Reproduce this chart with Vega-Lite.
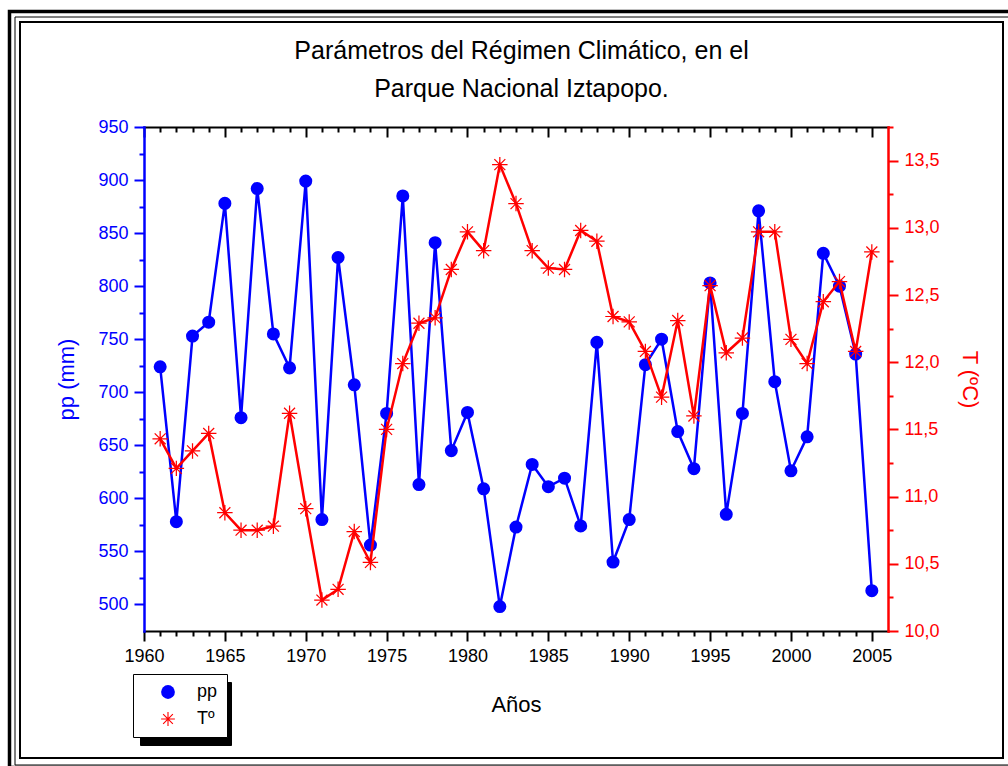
{
  "$schema": "https://vega.github.io/schema/vega-lite/v6.json",
  "width": 744,
  "height": 504,
  "autosize": "none",
  "padding": {"left": 144, "top": 127, "right": 120, "bottom": 135},
  "background": "white",
  "data": {
    "values": [
      {"year": 1961, "pp": 724, "T": 11.43},
      {"year": 1962, "pp": 578, "T": 11.21},
      {"year": 1963, "pp": 753, "T": 11.34},
      {"year": 1964, "pp": 766, "T": 11.47},
      {"year": 1965, "pp": 878, "T": 10.88},
      {"year": 1966, "pp": 676, "T": 10.75},
      {"year": 1967, "pp": 892, "T": 10.75},
      {"year": 1968, "pp": 755, "T": 10.78},
      {"year": 1969, "pp": 723, "T": 11.62},
      {"year": 1970, "pp": 899, "T": 10.91},
      {"year": 1971, "pp": 580, "T": 10.23},
      {"year": 1972, "pp": 827, "T": 10.31},
      {"year": 1973, "pp": 707, "T": 10.74},
      {"year": 1974, "pp": 556, "T": 10.51},
      {"year": 1975, "pp": 680, "T": 11.5},
      {"year": 1976, "pp": 885, "T": 11.99},
      {"year": 1977, "pp": 613, "T": 12.29},
      {"year": 1978, "pp": 841, "T": 12.33},
      {"year": 1979, "pp": 645, "T": 12.69},
      {"year": 1980, "pp": 681, "T": 12.97},
      {"year": 1981, "pp": 609, "T": 12.83},
      {"year": 1982, "pp": 498, "T": 13.47},
      {"year": 1983, "pp": 573, "T": 13.18},
      {"year": 1984, "pp": 632, "T": 12.83},
      {"year": 1985, "pp": 611, "T": 12.7},
      {"year": 1986, "pp": 619, "T": 12.69},
      {"year": 1987, "pp": 574, "T": 12.98},
      {"year": 1988, "pp": 747, "T": 12.9},
      {"year": 1989, "pp": 540, "T": 12.34},
      {"year": 1990, "pp": 580, "T": 12.3},
      {"year": 1991, "pp": 726, "T": 12.08},
      {"year": 1992, "pp": 750, "T": 11.74},
      {"year": 1993, "pp": 663, "T": 12.31},
      {"year": 1994, "pp": 628, "T": 11.6},
      {"year": 1995, "pp": 803, "T": 12.57},
      {"year": 1996, "pp": 585, "T": 12.07},
      {"year": 1997, "pp": 680, "T": 12.18},
      {"year": 1998, "pp": 871, "T": 12.97},
      {"year": 1999, "pp": 710, "T": 12.97},
      {"year": 2000, "pp": 626, "T": 12.17},
      {"year": 2001, "pp": 658, "T": 11.99},
      {"year": 2002, "pp": 831, "T": 12.45},
      {"year": 2003, "pp": 800, "T": 12.6},
      {"year": 2004, "pp": 736, "T": 12.08},
      {"year": 2005, "pp": 513, "T": 12.82}
    ]
  },
  "layer": [
    {
      "mark": {"type": "line", "color": "#0000ff", "strokeWidth": 2.5},
      "encoding": {
        "x": {
          "field": "year", "type": "quantitative",
          "scale": {"domain": [1960, 2006], "nice": false, "zero": false},
          "axis": {
            "orient": "bottom",
            "values": [1960,1961,1962,1963,1964,1965,1966,1967,1968,1969,1970,1971,1972,1973,1974,1975,1976,1977,1978,1979,1980,1981,1982,1983,1984,1985,1986,1987,1988,1989,1990,1991,1992,1993,1994,1995,1996,1997,1998,1999,2000,2001,2002,2003,2004,2005],
            "format": "d",
            "labelExpr": "datum.value % 5 === 0 ? datum.label : ''",
            "tickSize": {"condition": {"test": "datum.value % 5 === 0", "value": 10}, "value": 5},
            "labelOverlap": false,
            "labelFlush": false,
            "labelPadding": 6,
            "labelFont": "Liberation Sans",
            "labelFontSize": 18,
            "labelColor": "black",
            "domainColor": "black",
            "domainWidth": 2,
            "tickColor": "black",
            "tickWidth": 2,
            "grid": false,
            "title": "Años",
            "titleFont": "Liberation Sans",
            "titleFontSize": 22,
            "titleFontWeight": "normal",
            "titleColor": "black",
            "titlePadding": 29
          }
        },
        "y": {
          "field": "pp", "type": "quantitative",
          "scale": {"domain": [475, 950], "nice": false, "zero": false},
          "axis": {
            "orient": "left",
            "values": [500,525,550,575,600,625,650,675,700,725,750,775,800,825,850,875,900,925,950],
            "labelExpr": "datum.value % 50 === 0 ? datum.label : ''",
            "tickSize": {"condition": {"test": "datum.value % 50 === 0", "value": 10}, "value": 5},
            "labelOverlap": false,
            "labelFlush": false,
            "labelPadding": 6,
            "labelFont": "Liberation Sans",
            "labelFontSize": 18,
            "labelColor": "#0000ff",
            "domainColor": "#0000ff",
            "domainWidth": 2.5,
            "tickColor": "#0000ff",
            "tickWidth": 2,
            "grid": false,
            "title": "pp (mm)",
            "titleFont": "Liberation Sans",
            "titleFontSize": 22,
            "titleFontWeight": "normal",
            "titleColor": "#0000ff",
            "titlePadding": 19
          }
        }
      }
    },
    {
      "mark": {"type": "point", "filled": true, "size": 170, "opacity": 1},
      "encoding": {
        "x": {"field": "year", "type": "quantitative", "axis": null},
        "y": {"field": "pp", "type": "quantitative", "scale": {"domain": [475, 950], "nice": false, "zero": false}, "axis": null},
        "color": {
          "datum": "pp",
          "scale": {"domain": ["pp", "Tº"], "range": ["#0000ff", "#ff0000"]},
          "legend": {
            "orient": "none",
            "legendX": -11,
            "legendY": 547,
            "zindex": 2,
            "title": null,
            "strokeColor": "black",
            "fillColor": "white",
            "padding": 9,
            "rowPadding": 9,
            "symbolSize": 190,
            "symbolOffset": 17,
            "symbolOpacity": 1,
            "labelOffset": 20,
            "labelFont": "Liberation Sans",
            "labelFontSize": 18,
            "labelColor": "black"
          }
        },
        "shape": {
          "datum": "pp",
          "scale": {"domain": ["pp", "Tº"], "range": ["circle", "M-1,-0.08L1,-0.08L1,0.08L-1,0.08ZM-0.08,-1L0.08,-1L0.08,1L-0.08,1ZM-0.764,-0.65L-0.65,-0.764L0.764,0.65L0.65,0.764ZM-0.65,0.764L-0.764,0.65L0.65,-0.764L0.764,-0.65Z"]},
          "legend": {
            "orient": "none",
            "legendX": -11,
            "legendY": 547,
            "zindex": 2,
            "title": null,
            "strokeColor": "black",
            "fillColor": "white",
            "padding": 9,
            "rowPadding": 9,
            "symbolSize": 190,
            "symbolOffset": 17,
            "symbolOpacity": 1,
            "labelOffset": 20,
            "labelFont": "Liberation Sans",
            "labelFontSize": 18,
            "labelColor": "black"
          }
        }
      }
    },
    {
      "mark": {"type": "line", "color": "#ff0000", "strokeWidth": 2.5},
      "encoding": {
        "x": {
          "field": "year", "type": "quantitative",
          "axis": {
            "orient": "top",
            "domain": false,
            "ticks": false,
            "labels": false,
            "grid": false,
            "title": ["Parámetros del Régimen Climático, en el", "Parque Nacional Iztapopo."],
            "titleFont": "Liberation Sans",
            "titleFontSize": 25,
            "titleFontWeight": "normal",
            "titleColor": "black",
            "titleLineHeight": 38,
            "titleX": 377,
            "titlePadding": 26
          }
        },
        "y": {
          "field": "T", "type": "quantitative",
          "scale": {"domain": [10, 13.75], "nice": false, "zero": false},
          "axis": {
            "orient": "right",
            "values": [10,10.25,10.5,10.75,11,11.25,11.5,11.75,12,12.25,12.5,12.75,13,13.25,13.5,13.75],
            "labelExpr": "abs(datum.value*2 - round(datum.value*2)) < 0.001 ? replace(format(datum.value, '.1f'), '.', ',') : ''",
            "tickSize": {"condition": {"test": "abs(datum.value*2 - round(datum.value*2)) < 0.001", "value": 10}, "value": 5},
            "labelOverlap": false,
            "labelFlush": false,
            "labelPadding": 6,
            "labelFont": "Liberation Sans",
            "labelFontSize": 18,
            "labelColor": "#ff0000",
            "domainColor": "#ff0000",
            "domainWidth": 2.5,
            "tickColor": "#ff0000",
            "tickWidth": 2,
            "grid": false,
            "title": "T (ºC)",
            "titleAngle": 90,
            "titleFont": "Liberation Sans",
            "titleFontSize": 22,
            "titleFontWeight": "normal",
            "titleColor": "#ff0000",
            "titlePadding": 18
          }
        }
      }
    },
    {
      "mark": {"type": "point", "filled": true, "size": 240, "opacity": 1},
      "encoding": {
        "x": {"field": "year", "type": "quantitative", "axis": null},
        "y": {"field": "T", "type": "quantitative", "scale": {"domain": [10, 13.75], "nice": false, "zero": false}, "axis": null},
        "color": {"datum": "Tº"},
        "shape": {"datum": "Tº"}
      }
    },
    {
      "mark": {"type": "point", "opacity": 0},
      "encoding": {
        "x": {
          "field": "year", "type": "quantitative",
          "axis": {
            "orient": "bottom",
            "offset": -504,
            "values": [1960,1961,1962,1963,1964,1965,1966,1967,1968,1969,1970,1971,1972,1973,1974,1975,1976,1977,1978,1979,1980,1981,1982,1983,1984,1985,1986,1987,1988,1989,1990,1991,1992,1993,1994,1995,1996,1997,1998,1999,2000,2001,2002,2003,2004,2005],
            "labels": false,
            "tickSize": {"condition": {"test": "datum.value % 5 === 0", "value": 10}, "value": 5},
            "domainColor": "black",
            "domainWidth": 2,
            "tickColor": "black",
            "tickWidth": 2,
            "grid": false,
            "title": null
          }
        },
        "y": {"field": "pp", "type": "quantitative", "scale": {"domain": [475, 950], "nice": false, "zero": false}, "axis": null}
      }
    },
    {
      "mark": {"type": "point", "size": 0, "strokeWidth": 0, "opacity": 1},
      "encoding": {
        "x": {"field": "year", "type": "quantitative", "axis": null},
        "y": {"field": "pp", "type": "quantitative", "scale": {"domain": [475, 950], "nice": false, "zero": false}, "axis": null},
        "stroke": {
          "field": "pp", "type": "quantitative",
          "scale": {"range": ["rgba(255,255,255,0)", "rgba(255,255,255,0)"]},
          "legend": {
            "orient": "none",
            "legendX": -134.5,
            "legendY": -115.5,
            "zindex": 0,
            "direction": "vertical",
            "title": null,
            "padding": 0,
            "gradientLength": 756,
            "gradientThickness": 1003,
            "gradientStrokeColor": "black",
            "gradientStrokeWidth": 3.5,
            "labelExpr": "''",
            "labelOpacity": 0,
            "labelFontSize": 1,
            "labelOffset": 0,
            "tickCount": 2
          }
        },
        "fill": {
          "field": "T", "type": "quantitative",
          "scale": {"range": ["rgba(255,255,255,0)", "rgba(255,255,255,0)"]},
          "legend": {
            "orient": "none",
            "legendX": -129.5,
            "legendY": -110.5,
            "zindex": 0,
            "direction": "vertical",
            "title": null,
            "padding": 5.5,
            "strokeColor": "black",
            "gradientLength": 736,
            "gradientThickness": 983,
            "gradientStrokeColor": "black",
            "gradientStrokeWidth": 2,
            "labelExpr": "''",
            "labelOpacity": 0,
            "labelFontSize": 1,
            "labelOffset": 0,
            "tickCount": 2
          }
        },
        "size": {
          "field": "pp", "type": "quantitative",
          "scale": {"domain": [475, 950], "range": [0, 0]},
          "legend": {
            "orient": "none",
            "legendX": -4,
            "legendY": 555,
            "zindex": 1,
            "title": null,
            "values": [500, 900],
            "labelExpr": "'\u00a0\u00a0\u00a0\u00a0'",
            "fillColor": "black",
            "strokeColor": "black",
            "padding": 9,
            "rowPadding": 9,
            "symbolOffset": 17,
            "labelOffset": 38,
            "labelFont": "Liberation Sans",
            "labelFontSize": 18,
            "labelColor": "black"
          }
        }
      }
    }
  ],
  "resolve": {"scale": {"y": "independent"}, "axis": {"x": "independent", "y": "independent"}},
  "config": {
    "view": {"stroke": null},
    "axis": {"domainCap": "square"}
  }
}
